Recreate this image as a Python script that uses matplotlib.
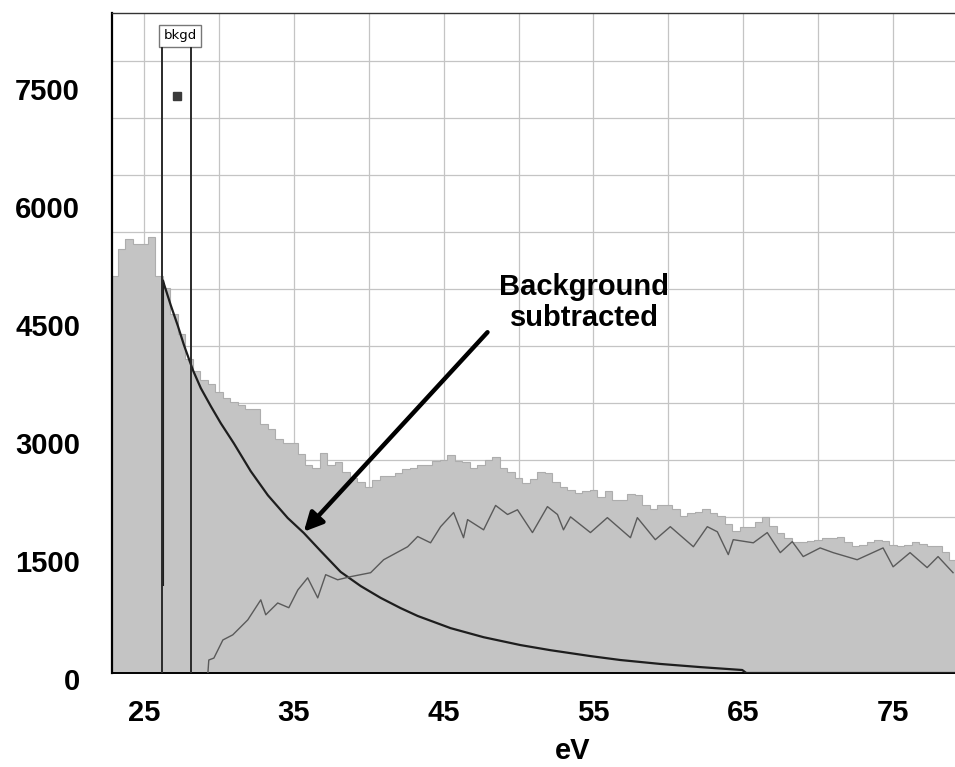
import matplotlib
matplotlib.use('Agg')
import matplotlib.pyplot as plt
import numpy as np
from matplotlib.transforms import ScaledTranslation

# ---- data ----
# raw spectrum, bins of 0.5 eV, centres 23.0 ... 79.0
hist_ev = np.arange(23.0, 79.01, 0.5)
hist_counts = [5050, 5390,
               5520, 5450, 5450, 5540, 5050, 4900, 4560, 4310,
               3990, 3840, 3730, 3670, 3570, 3500, 3440, 3410,
               3350, 3350, 3160, 3100, 2970, 2930, 2930, 2780,
               2650, 2610, 2800, 2650, 2680, 2560, 2480, 2430,
               2370, 2450, 2510, 2500, 2540, 2590, 2610, 2640,
               2650, 2690, 2710, 2770, 2690, 2680, 2610, 2640,
               2710, 2740, 2610, 2560, 2480, 2420, 2460, 2560,
               2540, 2430, 2370, 2330, 2290, 2310, 2320, 2240,
               2310, 2200, 2200, 2280, 2260, 2140, 2080, 2130,
               2140, 2080, 1990, 2030, 2050, 2080, 2040, 2000,
               1890, 1800, 1850, 1860, 1920, 1980, 1870, 1780,
               1720, 1660, 1670, 1680, 1690, 1710, 1720, 1730,
               1670, 1620, 1630, 1670, 1690, 1680, 1630, 1610,
               1630, 1660, 1640, 1620, 1610, 1540, 1440]

# fitted background, drawn from the bkgd window onwards
bkgd_ev = [26.27, 26.27, 26.33, 26.8, 27.27, 27.67, 28.27, 28.8, 29.47,
           30.13, 31.0, 32.13, 33.27, 34.6, 35.67, 36.8, 38.13, 39.47,
           40.8, 42.13, 43.27, 45.47, 47.67, 50.13, 52.13, 54.8, 56.8,
           59.47, 62.13, 64.93, 65.2, 79.2]
bkgd_counts = [1120, 4990, 4950, 4670, 4410, 4170, 3850, 3620, 3390,
               3175, 2920, 2565, 2260, 1970, 1780, 1550, 1285, 1105,
               955, 825, 725, 570, 455, 355, 290, 215, 165,
               115, 75, 38, 0, 0]

# background-subtracted signal
sub_ev = [29.27, 29.33, 29.67, 30.27, 30.93, 31.93, 32.8, 33.13, 33.93, 34.67,
          35.27, 35.93, 36.6, 37.13, 37.93, 38.8, 40.13, 41.0, 42.6, 43.27,
          44.13, 44.8, 45.67, 46.33, 46.6, 47.67, 48.47, 49.27, 49.93, 50.93,
          51.93, 52.6, 53.0, 53.47, 54.8, 55.93, 57.47, 57.93, 59.13, 60.13,
          61.67, 62.6, 63.27, 64.0, 64.33, 65.67, 66.6, 67.47, 68.27, 69.0,
          70.13, 71.0, 72.6, 74.33, 75.0, 76.13, 77.27, 78.0, 79.0]
sub_counts = [0, 165, 190, 420, 485, 675, 930, 740, 890, 830,
              1055, 1210, 955, 1250, 1185, 1225, 1275, 1440, 1605, 1735,
              1655, 1860, 2040, 1720, 1950, 1820, 2130, 2015, 2075, 1785,
              2115, 2015, 1820, 1985, 1785, 1975, 1720, 1975, 1695, 1860,
              1605, 1860, 1795, 1505, 1695, 1655, 1785, 1530, 1670, 1480,
              1590, 1530, 1440, 1590, 1350, 1530, 1340, 1480, 1275]

bkgd_window = [26.23, 28.17]
marker_pt = (27.2, 7340)

y_ticks = [0, 1500, 3000, 4500, 6000, 7500]
x_ticks = [25, 35, 45, 55, 65, 75]

# ---- figure ----
plt.rcParams['font.family'] = ['Liberation Sans', 'DejaVu Sans']

fig = plt.figure(figsize=(9.55, 7.67), dpi=100)
ax = fig.add_axes([112 / 955, 94 / 767, 843 / 955, 660 / 767])

ax.set_xlim(22.87, 79.13)
ax.set_ylim(0, 8390)

# grid (under the spectrum)
for gx in range(25, 80, 5):
    ax.axvline(gx, color='#c4c4c4', lw=0.9, zorder=0)
for gy in np.arange(533, 8000, 725):
    ax.axhline(gy, color='#c4c4c4', lw=0.9, zorder=0)

# raw spectrum
edges = np.append(hist_ev - 0.25, hist_ev[-1] + 0.25)
ax.stairs(hist_counts, edges, fill=True, color='#c4c4c4', zorder=1)
ax.stairs(hist_counts, edges, color='#adadad', lw=0.8, zorder=1.5)

# background fit and subtracted spectrum
ax.plot(bkgd_ev, bkgd_counts, color='#1e1e1e', lw=1.6, zorder=3)
ax.plot(sub_ev, sub_counts, color='#5a5a5a', lw=1.0, zorder=3)

# bkgd window
ax.vlines(bkgd_window, 0, 7960, color='#2a2a2a', lw=1.4, zorder=4)
ax.text(27.4, 8100, 'bkgd', ha='center', va='center', fontsize=9.5,
        family=['DejaVu Sans'],
        bbox=dict(boxstyle='square,pad=0.35', fc='white', ec='#777777', lw=1))
ax.plot(*marker_pt, marker='s', ms=6, color='#3a3a3a', zorder=5)

# annotation
ax.annotate('', xy=(35.67, 1796), xytext=(47.93, 4332),
            arrowprops=dict(arrowstyle='-|>', lw=3.2, color='black',
                            mutation_scale=28, shrinkA=0, shrinkB=0),
            zorder=6)
ax.text(54.4, 4710, 'Background\nsubtracted', ha='center', va='center',
        fontsize=21, fontweight='bold', linespacing=1.15, zorder=6)

# axes styling
ax.spines['right'].set_visible(False)
ax.spines['left'].set_linewidth(1.6)
ax.spines['bottom'].set_linewidth(1.4)
ax.spines['top'].set_linewidth(1.0)
ax.spines['top'].set_color('#333333')

ax.set_xticks(x_ticks)
ax.set_yticks(y_ticks)
ax.set_xticklabels([str(v) for v in x_ticks], fontsize=21, fontweight='bold')
ax.set_yticklabels([str(v) for v in y_ticks], fontsize=21, fontweight='bold')
ax.tick_params(axis='both', length=0)
ax.tick_params(axis='y', pad=23)
ax.tick_params(axis='x', pad=19)
for lab in ax.get_yticklabels():
    lab.set_transform(lab.get_transform() + ScaledTranslation(0, -6 / 100, fig.dpi_scale_trans))

fig.text(573 / 955, 1 - 751 / 767, 'eV', ha='center', va='center',
         fontsize=21, fontweight='bold')

fig.savefig('out.png', dpi=100, facecolor='white')
